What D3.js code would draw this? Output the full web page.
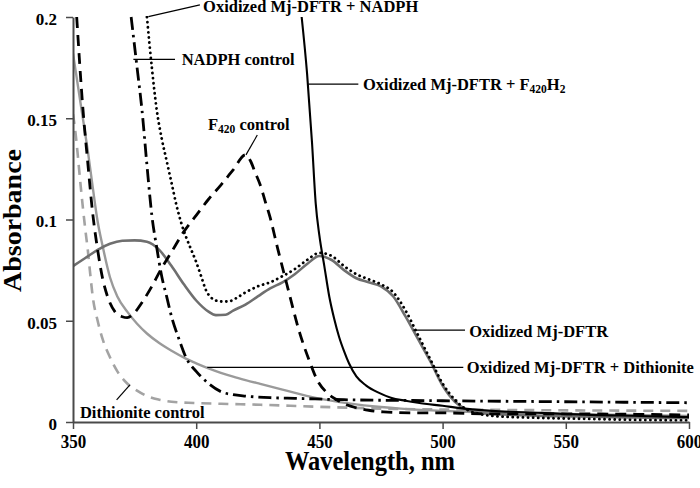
<!DOCTYPE html>
<html><head><meta charset="utf-8">
<script src="https://cdn.jsdelivr.net/npm/d3@7"></script>
<style>html,body{margin:0;padding:0;background:#fff}svg{display:block;background:#fff}</style>
</head><body><svg id="c" width="700" height="488"></svg>
<script>
// ---------- DATA (wavelength nm, absorbance) ----------
const xTicks = [350, 400, 450, 500, 550, 600];
const yTicks = [0, 0.05, 0.1, 0.15, 0.2];
const yTickLabels = ["0", "0.05", "0.1", "0.15", "0.2"];

// Oxidized Mj-DFTR (dark gray solid)
const oxWl = [350,355,360,365,370,375,380,385,390,395,400,405,408,412,415,420,425,430,435,440,445,450,455,460,465,470,475,480,485,490,495,500,505,510,515,520,530,540,550,560,570,580,590,600];
const oxA  = [0.077,0.081,0.085,0.088,0.0895,0.0897,0.089,0.085,0.077,0.068,0.060,0.0545,0.0528,0.053,0.055,0.058,0.062,0.066,0.069,0.073,0.078,0.082,0.080,0.075,0.071,0.069,0.067,0.062,0.052,0.041,0.030,0.018,0.010,0.006,0.0045,0.004,0.0035,0.003,0.0028,0.0026,0.0024,0.0022,0.002,0.002];

// Oxidized Mj-DFTR + NADPH (black dotted)
const nadphWl = [380,382,384,386,388,390,392,394,396,398,400,402,404,406,408,410,413,416,420,425,430,435,440,445,450,455,460,465,470,475,480,485,490,495,500,505,510,515,520,540,560,580,600];
const nadphA  = [0.2,0.175,0.154,0.140,0.129,0.118,0.107,0.098,0.091,0.085,0.079,0.072,0.065,0.0615,0.060,0.0595,0.0595,0.061,0.064,0.067,0.069,0.072,0.0755,0.080,0.0835,0.082,0.077,0.073,0.0705,0.068,0.064,0.055,0.043,0.031,0.019,0.011,0.006,0.004,0.003,0.002,0.0015,0.001,0.0008];

// NADPH control (black dash-dot)
const nadphCtlWl = [373.6,376,378,380,382,384,386,388,390,393,396,400,405,410,415,420,430,440,460,500,550,600];
const nadphCtlA  = [0.2,0.175,0.154,0.127,0.102,0.086,0.072,0.062,0.052,0.041,0.0315,0.025,0.019,0.015,0.0135,0.0128,0.012,0.0117,0.011,0.0105,0.010,0.0095];

// F420 control (black dashed)
const f420Wl = [351.5,354,356,358,360,362,364,367,370,372,375,378,382,386,390,395,400,405,410,415,420,422,424,426,428,430,433,437,442,446,449,453,457,461,465,470,476,490,500,520,550,600];
const f420A  = [0.2,0.155,0.128,0.103,0.085,0.071,0.062,0.0545,0.052,0.0515,0.054,0.059,0.067,0.076,0.084,0.094,0.102,0.110,0.117,0.1245,0.132,0.129,0.123,0.117,0.109,0.101,0.086,0.067,0.044,0.030,0.021,0.0145,0.011,0.0085,0.007,0.0058,0.005,0.0045,0.0045,0.004,0.004,0.0035];

// Oxidized Mj-DFTR + F420H2 (black solid)
const f420h2Wl = [442.8,445,447,448.5,450,452,454,456,458,460,462,465,469,474,479,485,490,500,510,520,540,560,580,600];
const f420h2A  = [0.2,0.172,0.138,0.108,0.092,0.077,0.062,0.051,0.042,0.035,0.029,0.0225,0.018,0.0145,0.012,0.0105,0.0095,0.008,0.0065,0.0055,0.0045,0.0035,0.003,0.0024];

// Oxidized Mj-DFTR + Dithionite (light gray solid)
const dithWl = [350,352,354,356,358,360,362,365,368,372,376,380,385,390,396,400,405,410,415,420,426,435,449,462,475,483,500,520,550,575,600];
const dithA  = [0.182,0.166,0.150,0.134,0.116,0.099,0.087,0.0715,0.062,0.0545,0.0485,0.0437,0.0390,0.0352,0.0312,0.0290,0.0265,0.0243,0.0224,0.0207,0.0188,0.0160,0.0118,0.0092,0.0074,0.0066,0.0055,0.0046,0.004,0.0035,0.003];

// Dithionite control (gray dashed)
const dithCtlWl = [350,351,352,353,354,355,356,357,358,360,362,365,368,372,376,380,385,390,399,410,426,450,480,520,560,600];
const dithCtlA  = [0.152,0.143,0.131,0.118,0.106,0.095,0.085,0.073,0.062,0.050,0.041,0.032,0.025,0.019,0.0155,0.0128,0.011,0.010,0.0094,0.009,0.0085,0.0075,0.0065,0.006,0.0057,0.0055];

// ---------- CHART ----------
const W = 700, H = 488;
const margin = {left: 73, right: 11, top: 17, bottom: 66};
const x = d3.scaleLinear().domain([350, 600]).range([margin.left, W - margin.right]);
const y = d3.scaleLinear().domain([0, 0.2]).range([H - margin.bottom, margin.top]);
const FONT = "'Liberation Serif','Times New Roman',Times,serif";

const svg = d3.select("#c");
svg.append("rect").attr("width", W).attr("height", H).attr("fill", "#fff");

svg.append("defs").append("clipPath").attr("id", "plot")
  .append("rect").attr("x", x(350)).attr("y", y(0.2) - 1)
  .attr("width", x(600) - x(350) + 2).attr("height", y(0) - y(0.2) + 2);

const series = [
  {wl: dithCtlWl, a: dithCtlA, stroke: "#a3a3a3", width: 2.6, dash: "10,7", cap: "butt"},
  {wl: dithWl, a: dithA, stroke: "#9a9a9a", width: 2.4, dash: null, cap: "butt"},
  {wl: oxWl, a: oxA, stroke: "#6f6f6f", width: 2.6, dash: null, cap: "butt"},
  {wl: nadphWl, a: nadphA, stroke: "#000", width: 2.8, dash: "0.1,5", cap: "round"},
  {wl: nadphCtlWl, a: nadphCtlA, stroke: "#000", width: 2.8, dash: "13,5,2.5,5", cap: "butt"},
  {wl: f420Wl, a: f420A, stroke: "#000", width: 2.8, dash: "11,7", cap: "butt"},
  {wl: f420h2Wl, a: f420h2A, stroke: "#000", width: 2.1, dash: null, cap: "butt"}
];

const line = d3.line().x(d => x(d[0])).y(d => y(d[1])).curve(d3.curveMonotoneX);
const plot = svg.append("g").attr("clip-path", "url(#plot)");
series.forEach(s => {
  plot.append("path")
    .attr("d", line(s.wl.map((w, i) => [w, s.a[i]])))
    .attr("fill", "none").attr("stroke", s.stroke).attr("stroke-width", s.width)
    .attr("stroke-dasharray", s.dash).attr("stroke-linecap", s.cap)
    .attr("stroke-linejoin", "round");
});

// Axes
const axisColor = "#4a4a4a";
const gx = svg.append("g").attr("transform", `translate(0,${y(0)})`)
  .call(d3.axisBottom(x).tickValues(xTicks).tickSize(7).tickSizeOuter(0).tickPadding(5.5).tickFormat(d3.format("d")));
const gy = svg.append("g").attr("transform", `translate(${x(350)},0)`)
  .call(d3.axisLeft(y).tickValues(yTicks).tickSize(7).tickSizeOuter(0).tickPadding(9)
    .tickFormat((d, i) => yTickLabels[i]));
[gx, gy].forEach(g => {
  g.select(".domain").attr("stroke", axisColor).attr("stroke-width", 2);
  g.selectAll(".tick line").attr("stroke", axisColor).attr("stroke-width", 1.5);
  g.selectAll(".tick text").attr("fill", "#000").attr("font-family", FONT)
    .attr("font-weight", "bold").attr("font-size", 17);
});
gx.selectAll(".tick text").attr("transform", "scale(1,1.06)");
gy.selectAll(".tick text").attr("dy", "0.44em");

// Axis titles
svg.append("text").attr("transform", `translate(21,${(y(0) + y(0.2)) / 2 + 1}) scale(1,1.12) rotate(-90)`)
  .attr("text-anchor", "middle").attr("font-family", FONT).attr("font-weight", "bold")
  .attr("font-size", 25).text("Absorbance");
svg.append("text").attr("transform", `translate(${x(470.5)},470) scale(1,1.12)`)
  .attr("text-anchor", "middle").attr("font-family", FONT).attr("font-weight", "bold")
  .attr("font-size", 24.5).text("Wavelength, nm");

// Annotations: leader line (data coords) + label (data coords), parts [text, isSub]
const annotations = [
  {line: [[380.6, 0.2002], [401.5, 0.206]], at: [402.8, 0.2025], parts: [["Oxidized Mj-DFTR + NADPH", 0]]},
  {line: [[374.5, 0.1791], [391.4, 0.1791]], at: [394.1, 0.1765], parts: [["NADPH control", 0]]},
  {line: [[445.5, 0.1669], [465.8, 0.1669]], at: [467.7, 0.164], parts: [["Oxidized Mj-DFTR + F", 0], ["420", 1], ["H", 0], ["2", 1]]},
  {line: [[424.8, 0.1417], [420.2, 0.1319]], at: [404.8, 0.1442], parts: [["F", 0], ["420", 1], [" control", 0]]},
  {line: [[488.1, 0.0454], [509.1, 0.0454]], at: [510.8, 0.042], parts: [["Oxidized Mj-DFTR", 0]]},
  {line: [[404.5, 0.027], [508.4, 0.027]], at: [509.8, 0.0242], parts: [["Oxidized Mj-DFTR + Dithionite", 0]]},
  {line: [[367.7, 0.0109], [373.1, 0.0183]], at: [352.8, 0.0018], parts: [["Dithionite control", 0]]}
];
const ann = svg.append("g");
annotations.forEach(a => {
  ann.append("line")
    .attr("x1", x(a.line[0][0])).attr("y1", y(a.line[0][1]))
    .attr("x2", x(a.line[1][0])).attr("y2", y(a.line[1][1]))
    .attr("stroke", "#000").attr("stroke-width", 1.2);
  const t = ann.append("text").attr("x", x(a.at[0])).attr("y", y(a.at[1]))
    .attr("font-family", FONT).attr("font-weight", "bold").attr("font-size", 16.5).attr("fill", "#000");
  let shifted = false;
  a.parts.forEach(p => {
    const ts = t.append("tspan").text(p[0]);
    if (p[1]) { ts.attr("font-size", 11.5).attr("dy", shifted ? 0 : 3.5); shifted = true; }
    else { if (shifted) ts.attr("dy", -3.5); shifted = false; }
  });
});
</script></body></html>
